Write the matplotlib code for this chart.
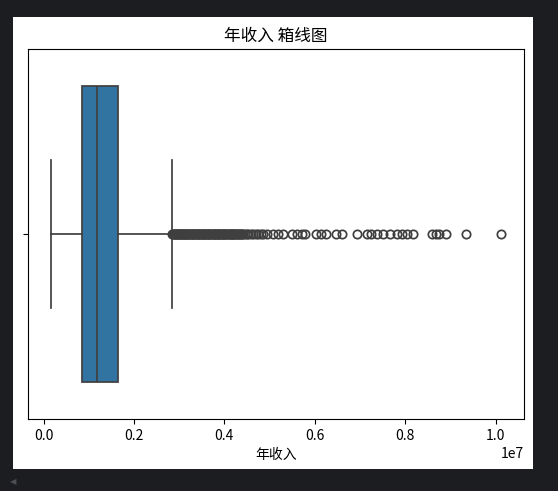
import matplotlib
matplotlib.use("Agg")
import matplotlib.pyplot as plt
from matplotlib.patches import Rectangle

plt.rcParams['font.family'] = ['Noto Sans CJK SC', 'DejaVu Sans']

# 年收入 箱线图 的统计量（单位：元）
q1 = 840700
median = 1172500
q3 = 1646000
whisker_low = 155000
whisker_high = 2832000

# 离群点（单位：百万元，从图中读取）
outliers_m = [
    2.85, 2.87, 2.88, 2.90, 2.92, 2.94, 2.95, 2.97, 2.99, 3.01, 3.02, 3.04,
    3.06, 3.08, 3.10, 3.11, 3.13, 3.15, 3.17, 3.19, 3.20, 3.22, 3.24, 3.26,
    3.28, 3.30, 3.31, 3.33, 3.35, 3.37, 3.39, 3.41, 3.42, 3.44, 3.46, 3.48,
    3.50, 3.52, 3.53, 3.55, 3.57, 3.59, 3.61, 3.63, 3.64, 3.66, 3.68, 3.70,
    3.72, 3.74, 3.76, 3.77, 3.79, 3.81, 3.83, 3.85, 3.87, 3.89, 3.90, 3.92,
    3.94, 3.96, 3.98, 4.00, 4.02, 4.04, 4.06, 4.08, 4.10, 4.12, 4.14, 4.16,
    4.18, 4.20, 4.22, 4.24, 4.26, 4.28, 4.30, 4.32, 4.34, 4.36, 4.38,
    4.41, 4.45, 4.49, 4.53, 4.58, 4.64, 4.69, 4.75, 4.80, 4.86, 4.95,
    5.08, 5.19, 5.30, 5.50, 5.61, 5.72, 5.79, 6.03, 6.14, 6.25, 6.48, 6.61,
    6.94, 7.16, 7.25, 7.38, 7.52, 7.67, 7.82, 7.94, 8.05, 8.18, 8.60, 8.69,
    8.75, 8.91, 9.35, 10.13,
]
outliers = [v * 1e6 for v in outliers_m]

title = '年收入 箱线图'
xlabel = '年收入'

stats = [{
    'med': median, 'q1': q1, 'q3': q3,
    'whislo': whisker_low, 'whishi': whisker_high,
    'fliers': outliers,
}]

line_color = '#3f3f3f'
box_color = '#3274a1'

fig = plt.figure(figsize=(5.58, 4.91), dpi=100, facecolor='#1c1d21')
# 白色画布区域（笔记本输出区域）
fig.add_artist(Rectangle((13 / 558, 22 / 491), 520 / 558, 452 / 491,
                         transform=fig.transFigure, facecolor='white',
                         edgecolor='none', zorder=0))
fig.text(13 / 558, 1 - 482 / 491, '◀', fontsize=6, color='#4d4e53',
         ha='center', va='center', family='DejaVu Sans')

ax = fig.add_axes([28 / 558, 72 / 491, 496 / 558, 370 / 491])
ax.bxp(stats, positions=[0], widths=0.8, capwidths=0.4, vert=False,
       patch_artist=True, showfliers=True,
       boxprops=dict(facecolor=box_color, edgecolor=line_color, linewidth=1.25),
       medianprops=dict(color=line_color, linewidth=1.25),
       whiskerprops=dict(color=line_color, linewidth=1.25),
       capprops=dict(color=line_color, linewidth=1.25),
       flierprops=dict(marker='o', markersize=6, markerfacecolor='none',
                       markeredgecolor=line_color, markeredgewidth=1.25))
ax.set_ylim(0.5, -0.5)
ax.set_yticks([0])
ax.set_yticklabels([''])
ax.margins(x=0.05)
ax.set_title(title, fontsize=12)
ax.set_xlabel(xlabel)

plt.savefig('out.png', dpi=100, facecolor=fig.get_facecolor())
